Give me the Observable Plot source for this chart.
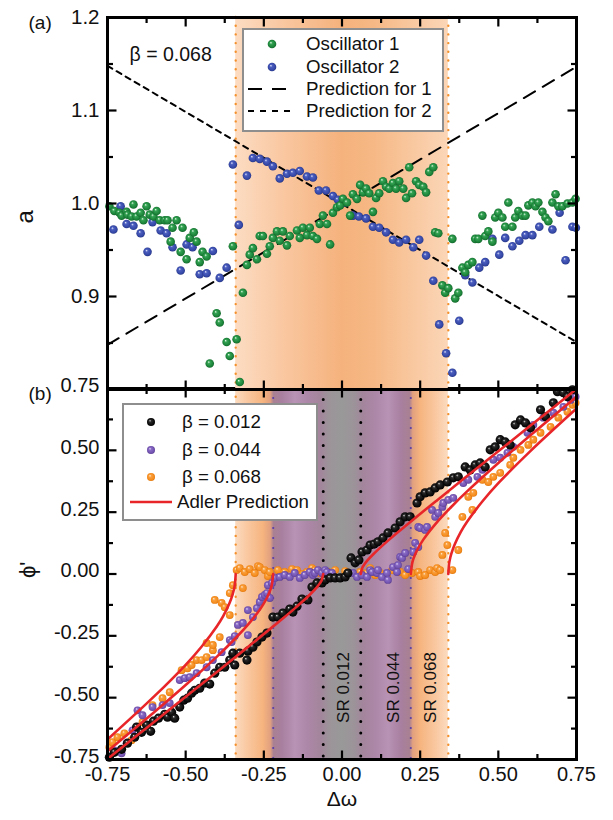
<!DOCTYPE html>
<html><head><meta charset="utf-8">
<script src="https://cdn.jsdelivr.net/npm/d3@7"></script>
<script src="https://cdn.jsdelivr.net/npm/@observablehq/plot@0.6"></script>
<style>
html,body{margin:0;padding:0;background:#fff;}
#wrap{position:relative;width:613px;height:820px;overflow:hidden;font-family:"Liberation Sans",Arial,Helvetica,sans-serif;color:#111;}
#wrap > svg{position:absolute;left:0;}
.lg{position:absolute;background:#fff;border:2px solid #8e8e8e;box-sizing:border-box;}
.lg .txt{position:absolute;white-space:nowrap;line-height:22px;height:22px;font-size:18.7px;color:#111;}
.lg svg.mk{position:absolute;left:0;overflow:visible;}
</style></head>
<body>
<svg width="0" height="0" style="position:absolute" aria-hidden="true"><defs>
<linearGradient id="bandTop" x1="0" x2="1" y1="0" y2="0">
<stop offset="0" stop-color="#fcdcc2"/><stop offset="0.25" stop-color="#f9c59d"/><stop offset="0.5" stop-color="#f5b27d"/><stop offset="0.65" stop-color="#f6b885"/><stop offset="1" stop-color="#fbd6b7"/>
</linearGradient>
<linearGradient id="bandBot" x1="0" x2="1" y1="0" y2="0">
<stop offset="0" stop-color="#fcdbbf"/><stop offset="0.06" stop-color="#f9c79f"/><stop offset="0.13" stop-color="#f6b47f"/><stop offset="0.165" stop-color="#e2a07f"/><stop offset="0.18" stop-color="#a98192"/><stop offset="0.22" stop-color="#a87f9f"/><stop offset="0.28" stop-color="#b893b5"/><stop offset="0.34" stop-color="#ad87a8"/><stop offset="0.40" stop-color="#a3859c"/><stop offset="0.44" stop-color="#9c9399"/><stop offset="0.5" stop-color="#999999"/><stop offset="0.56" stop-color="#9c9399"/><stop offset="0.60" stop-color="#a3859c"/><stop offset="0.66" stop-color="#ad87a8"/><stop offset="0.72" stop-color="#b893b5"/><stop offset="0.78" stop-color="#a87f9f"/><stop offset="0.82" stop-color="#a98192"/><stop offset="0.835" stop-color="#e2a07f"/><stop offset="0.87" stop-color="#f6b47f"/><stop offset="0.94" stop-color="#f9c79f"/><stop offset="1" stop-color="#fcdbbf"/>
</linearGradient>
<radialGradient id="sGreen" cx="0.5" cy="0.5" r="0.55" fx="0.36" fy="0.32"><stop offset="0" stop-color="#e3f7e6"/><stop offset="0.28" stop-color="#34a353"/><stop offset="0.75" stop-color="#1b8239"/><stop offset="1" stop-color="#0f5e25"/></radialGradient>
<radialGradient id="sBlue" cx="0.5" cy="0.5" r="0.55" fx="0.36" fy="0.32"><stop offset="0" stop-color="#e6eafc"/><stop offset="0.28" stop-color="#4c5fc0"/><stop offset="0.75" stop-color="#3447a6"/><stop offset="1" stop-color="#22307a"/></radialGradient>
<radialGradient id="sBlack" cx="0.5" cy="0.5" r="0.55" fx="0.36" fy="0.32"><stop offset="0" stop-color="#e0e0e0"/><stop offset="0.25" stop-color="#2a2a2a"/><stop offset="0.75" stop-color="#0a0a0a"/><stop offset="1" stop-color="#000"/></radialGradient>
<radialGradient id="sPurple" cx="0.5" cy="0.5" r="0.55" fx="0.36" fy="0.32"><stop offset="0" stop-color="#ece4fa"/><stop offset="0.28" stop-color="#8a6cc6"/><stop offset="0.75" stop-color="#7252b0"/><stop offset="1" stop-color="#553a8c"/></radialGradient>
<radialGradient id="sOrange" cx="0.5" cy="0.5" r="0.55" fx="0.36" fy="0.32"><stop offset="0" stop-color="#fff0dc"/><stop offset="0.28" stop-color="#f9a040"/><stop offset="0.75" stop-color="#f58c1c"/><stop offset="1" stop-color="#d9700a"/></radialGradient>
</defs></svg>
<div id="wrap"></div>
<script>
// ---------------- data ----------------
const xMajorTicks = [-0.75, -0.5, -0.25, 0, 0.25, 0.5, 0.75];
const xMinorTicks = [-0.625, -0.375, -0.125, 0.125, 0.375, 0.625];
const xTickLabels = [-0.75, -0.5, -0.25, 0, 0.25, 0.5, 0.75];
const aMajorTicks = [0.8, 0.9, 1.0, 1.1, 1.2];
const aMinorTicks = [0.85, 0.95, 1.05, 1.15];
const aTickLabels = [0.9, 1.0, 1.1, 1.2];
const phiMajorTicks = [-0.75, -0.5, -0.25, 0, 0.25, 0.5, 0.75];
const phiMinorTicks = [-0.625, -0.375, -0.125, 0.125, 0.375, 0.625];
const phiTickLabels = [-0.75, -0.5, -0.25, 0, 0.25, 0.5, 0.75];

const betas = ["0.012", "0.044", "0.068"];
const srLow = [-0.06, -0.22, -0.34];
const srHigh = [0.06, 0.22, 0.34];

// panel (a): amplitude a vs detuning
const predX = [-0.75, 0.75];
const pred1A = [0.848, 1.147];
const pred2A = [1.148, 0.851];

const osc1X = [-0.744,-0.728,-0.712,-0.705,-0.689,-0.686,-0.673,-0.667,-0.657,-0.644,-0.635,-0.625,-0.615,-0.603,-0.593,-0.583,-0.567,-0.558,-0.548,-0.542,-0.529,-0.516,-0.510,-0.497,-0.487,-0.474,-0.465,-0.455,-0.446,-0.433,-0.423,-0.401,-0.391,-0.369,-0.359,-0.349,-0.337,-0.327,-0.317,-0.304,-0.295,-0.285,-0.272,-0.263,-0.253,-0.240,-0.231,-0.221,-0.208,-0.199,-0.189,-0.176,-0.167,-0.144,-0.135,-0.125,-0.112,-0.103,-0.093,-0.080,-0.071,-0.061,-0.048,-0.038,-0.029,-0.016,-0.006,0.003,0.016,0.026,0.035,0.048,0.058,0.067,0.077,0.087,0.099,0.109,0.119,0.131,0.141,0.151,0.163,0.173,0.183,0.196,0.205,0.215,0.224,0.237,0.247,0.260,0.269,0.279,0.292,0.298,0.308,0.321,0.330,0.340,0.353,0.362,0.372,0.385,0.394,0.404,0.417,0.426,0.436,0.449,0.458,0.468,0.481,0.490,0.500,0.513,0.522,0.532,0.545,0.554,0.564,0.577,0.587,0.596,0.609,0.619,0.628,0.641,0.651,0.660,0.673,0.683,0.692,0.705,0.721,0.737,0.747];
const osc1A = [0.997,0.992,0.990,0.987,0.991,0.988,0.986,0.999,0.986,0.990,0.982,0.997,0.988,0.986,0.992,0.982,0.982,0.982,0.959,0.974,0.982,0.948,0.974,0.940,0.963,0.969,0.959,0.937,0.948,0.943,0.828,0.882,0.872,0.851,0.836,0.954,0.854,0.808,0.904,0.934,0.945,0.952,0.940,0.965,0.965,0.946,0.954,0.963,0.970,0.960,0.970,0.955,0.965,0.971,0.963,0.974,0.966,0.974,0.965,0.962,0.978,0.987,0.978,0.956,0.990,0.996,0.998,1.005,1.001,0.987,1.010,1.005,1.020,1.012,1.016,1.011,0.991,1.006,1.011,1.024,1.018,1.016,1.022,1.016,1.024,1.016,1.006,1.039,1.011,1.024,1.020,1.018,1.012,1.034,1.039,0.969,0.968,0.912,0.904,0.909,0.962,0.898,0.904,0.931,0.926,0.934,0.937,0.962,0.962,0.987,0.965,0.970,0.959,0.985,0.990,0.985,0.975,1.001,0.975,0.985,0.992,0.987,0.987,0.998,1.001,0.997,1.001,0.991,0.985,0.981,1.001,1.010,0.997,0.997,1.000,1.001,1.005];

const osc2X = [-0.731,-0.708,-0.689,-0.667,-0.644,-0.622,-0.606,-0.580,-0.561,-0.542,-0.516,-0.497,-0.478,-0.455,-0.433,-0.413,-0.391,-0.369,-0.349,-0.330,-0.304,-0.285,-0.263,-0.240,-0.221,-0.199,-0.176,-0.157,-0.135,-0.112,-0.093,-0.074,-0.051,-0.029,-0.013,0.010,0.035,0.054,0.077,0.099,0.119,0.141,0.163,0.183,0.205,0.228,0.247,0.269,0.292,0.311,0.333,0.353,0.375,0.394,0.417,0.439,0.458,0.481,0.503,0.522,0.545,0.567,0.587,0.609,0.631,0.673,0.696,0.715,0.737,0.748];
const osc2A = [0.972,0.997,0.978,0.976,0.968,0.948,0.980,0.971,0.968,0.953,0.928,0.956,0.953,0.924,0.925,0.949,0.920,0.931,1.042,0.977,1.030,1.049,1.048,1.045,1.040,1.027,1.032,1.033,1.035,1.029,1.028,1.014,1.014,1.008,1.004,1.001,0.987,0.986,0.984,0.975,0.974,0.969,0.961,0.958,0.961,0.953,0.961,0.944,0.917,0.870,0.839,0.818,0.874,0.923,0.915,0.931,0.937,0.962,0.945,0.963,0.954,0.960,0.966,0.966,0.975,0.972,0.990,0.939,0.975,0.974];

// panel (b): phi' vs detuning
const b012X = [-0.744,-0.728,-0.705,-0.686,-0.663,-0.657,-0.641,-0.625,-0.612,-0.603,-0.587,-0.567,-0.558,-0.545,-0.535,-0.519,-0.506,-0.494,-0.481,-0.471,-0.455,-0.439,-0.423,-0.407,-0.391,-0.375,-0.359,-0.349,-0.343,-0.327,-0.304,-0.301,-0.285,-0.272,-0.256,-0.240,-0.221,-0.205,-0.189,-0.167,-0.157,-0.144,-0.128,-0.109,-0.096,-0.080,-0.064,-0.054,-0.038,-0.022,-0.006,0.010,0.019,0.029,0.042,0.054,0.064,0.080,0.090,0.103,0.115,0.131,0.147,0.170,0.186,0.202,0.218,0.240,0.250,0.266,0.282,0.298,0.314,0.337,0.356,0.372,0.394,0.410,0.426,0.442,0.458,0.474,0.490,0.506,0.522,0.538,0.554,0.571,0.587,0.603,0.635,0.651,0.676,0.689,0.708,0.721,0.737];
const b012Phi = [-0.741,-0.721,-0.709,-0.684,-0.660,-0.619,-0.640,-0.611,-0.636,-0.595,-0.583,-0.567,-0.579,-0.559,-0.583,-0.538,-0.510,-0.502,-0.482,-0.470,-0.462,-0.441,-0.445,-0.401,-0.377,-0.377,-0.348,-0.320,-0.368,-0.320,-0.348,-0.312,-0.296,-0.275,-0.255,-0.239,-0.174,-0.174,-0.158,-0.142,-0.154,-0.130,-0.101,-0.105,-0.053,-0.036,-0.036,-0.024,-0.016,-0.016,-0.016,-0.012,0.004,0.065,0.045,0.057,0.089,0.097,0.117,0.121,0.130,0.146,0.166,0.186,0.211,0.231,0.231,0.287,0.312,0.328,0.332,0.348,0.360,0.372,0.389,0.393,0.433,0.421,0.441,0.449,0.433,0.502,0.514,0.543,0.534,0.522,0.603,0.623,0.611,0.591,0.664,0.636,0.692,0.737,0.733,0.717,0.745];

const b044X = [-0.728,-0.705,-0.689,-0.670,-0.654,-0.638,-0.606,-0.574,-0.551,-0.519,-0.503,-0.487,-0.465,-0.433,-0.413,-0.385,-0.359,-0.353,-0.343,-0.333,-0.317,-0.301,-0.301,-0.285,-0.272,-0.263,-0.256,-0.247,-0.240,-0.237,-0.231,-0.224,-0.215,-0.199,-0.183,-0.167,-0.151,-0.135,-0.119,-0.103,-0.093,-0.087,-0.077,-0.064,-0.054,-0.048,-0.032,0.035,0.048,0.064,0.080,0.090,0.096,0.112,0.115,0.128,0.144,0.147,0.163,0.176,0.179,0.186,0.192,0.202,0.212,0.228,0.234,0.244,0.244,0.250,0.266,0.272,0.288,0.298,0.308,0.321,0.324,0.340,0.356,0.388,0.404,0.433,0.449,0.484,0.506,0.529,0.548,0.593,0.612,0.644,0.676,0.708,0.731,0.747];
const b044Phi = [-0.713,-0.725,-0.684,-0.632,-0.551,-0.571,-0.538,-0.530,-0.522,-0.429,-0.421,-0.417,-0.401,-0.377,-0.348,-0.316,-0.267,-0.275,-0.251,-0.206,-0.198,-0.247,-0.146,-0.174,-0.138,-0.113,-0.093,-0.085,-0.077,-0.045,-0.097,-0.036,-0.016,-0.012,-0.004,-0.012,0.004,-0.016,-0.004,0.008,-0.004,0.004,0.016,0.004,0.016,0.008,0.004,0.004,-0.012,-0.004,-0.012,0.016,0.008,0.004,0.016,-0.012,0.004,-0.024,0.028,0.008,0.036,0.069,0.065,0.085,0.020,0.089,0.126,0.109,0.190,0.186,0.178,0.190,0.259,0.231,0.247,0.271,0.287,0.300,0.308,0.368,0.381,0.393,0.421,0.462,0.470,0.490,0.514,0.571,0.603,0.632,0.652,0.676,0.704,0.717];

const b068X = [-0.744,-0.734,-0.718,-0.696,-0.673,-0.638,-0.606,-0.574,-0.551,-0.513,-0.494,-0.481,-0.465,-0.449,-0.433,-0.433,-0.413,-0.413,-0.407,-0.391,-0.385,-0.375,-0.359,-0.359,-0.349,-0.337,-0.327,-0.317,-0.311,-0.295,-0.279,-0.269,-0.263,-0.247,-0.237,-0.231,-0.205,-0.183,-0.160,-0.144,-0.125,-0.112,-0.096,-0.087,-0.071,-0.045,-0.022,0.010,0.058,0.080,0.090,0.106,0.122,0.144,0.160,0.186,0.202,0.224,0.244,0.250,0.266,0.282,0.298,0.304,0.314,0.321,0.330,0.337,0.353,0.372,0.385,0.404,0.417,0.420,0.449,0.468,0.484,0.506,0.538,0.548,0.571,0.596,0.612,0.635,0.667,0.692,0.721,0.737,0.747];
const b068Phi = [-0.700,-0.680,-0.660,-0.644,-0.672,-0.599,-0.530,-0.502,-0.478,-0.389,-0.381,-0.368,-0.348,-0.348,-0.336,-0.279,-0.308,-0.287,-0.105,-0.255,-0.117,-0.134,-0.166,-0.077,-0.045,0.016,0.024,-0.057,0.008,0.020,0.004,0.032,0.028,0.016,-0.008,0.008,0.016,0.008,0.020,0.016,0.000,0.008,0.024,0.016,0.004,0.008,0.016,0.012,0.008,0.004,0.024,-0.004,0.004,-0.012,0.016,0.008,-0.004,0.004,0.008,-0.008,-0.004,0.016,0.008,0.024,0.016,0.077,0.166,0.117,0.016,0.097,0.231,0.312,0.259,0.328,0.381,0.372,0.393,0.409,0.441,0.470,0.502,0.522,0.543,0.571,0.595,0.632,0.656,0.684,0.692];

// Adler prediction branches
const adler012LX = [-0.75,-0.6,-0.5,-0.4,-0.3,-0.2,-0.15,-0.1,-0.08,-0.07,-0.065,-0.06];
const adler012LY = [-0.748,-0.597,-0.496,-0.396,-0.294,-0.191,-0.138,-0.080,-0.053,-0.036,-0.025,0];
const adler012RX = [0.06,0.065,0.07,0.08,0.1,0.15,0.2,0.3,0.4,0.5,0.6,0.75];
const adler012RY = [0,0.025,0.036,0.053,0.080,0.138,0.191,0.294,0.396,0.496,0.597,0.748];
const adler044LX = [-0.75,-0.6,-0.5,-0.4,-0.35,-0.3,-0.26,-0.24,-0.23,-0.225,-0.22];
const adler044LY = [-0.717,-0.558,-0.449,-0.334,-0.272,-0.204,-0.139,-0.096,-0.067,-0.047,0];
const adler044RX = [0.22,0.225,0.23,0.24,0.26,0.3,0.35,0.4,0.5,0.6,0.75];
const adler044RY = [0,0.047,0.067,0.096,0.139,0.204,0.272,0.334,0.449,0.558,0.717];
const adler068LX = [-0.75,-0.6,-0.5,-0.45,-0.4,-0.38,-0.36,-0.35,-0.345,-0.3425,-0.34];
const adler068LY = [-0.669,-0.494,-0.367,-0.295,-0.211,-0.170,-0.118,-0.083,-0.059,-0.041,0];
const adler068RX = [0.34,0.3425,0.345,0.35,0.36,0.38,0.4,0.45,0.5,0.6,0.75];
const adler068RY = [0,0.041,0.059,0.083,0.118,0.170,0.211,0.295,0.367,0.494,0.669];

// ---------------- helpers ----------------
const fontFamily = '"Liberation Sans", Arial, Helvetica, sans-serif';
const pts = (xs, ys) => xs.map((x, i) => ({x, y: ys[i]}));
const tickSym = (dx, dy) => ({draw(ctx) { ctx.moveTo(0, 0); ctx.lineTo(dx, dy); }});
const MAJ = 9, MIN = 5.5;
const tickStyle = {stroke: "#000", strokeWidth: 2.2, fill: "none", r: 5};
function frameTicks({xMaj, xMin, yMaj, yMin, top, bottom}) {
  const m = [];
  const add = (data, anchor, dx, dy, ch) =>
    m.push(Plot.dot(data, {[ch]: d => d, frameAnchor: anchor, symbol: tickSym(dx, dy), ...tickStyle}));
  add(yMaj, "left", MAJ, 0, "y"); add(yMin, "left", MIN, 0, "y");
  add(yMaj, "right", -MAJ, 0, "y"); add(yMin, "right", -MIN, 0, "y");
  if (top) { add(xMaj, "top", 0, MAJ, "x"); add(xMin, "top", 0, MIN, "x"); }
  if (bottom) { add(xMaj, "bottom", 0, -MAJ, "x"); add(xMin, "bottom", 0, -MIN, "x"); }
  return m;
}
const fmt2 = v => (v < 0 ? "-" : "") + Math.abs(v).toFixed(2);
const dotted = (color, w, gap) => ({stroke: color, strokeWidth: w, strokeDasharray: `0,${gap}`, strokeLinecap: "round"});

// ---------------- panel (a) ----------------
const topPlot = Plot.plot({
  width: 613, height: 392,
  marginTop: 17, marginBottom: 3, marginLeft: 107, marginRight: 37,
  x: {domain: [-0.75, 0.75], axis: null},
  y: {domain: [0.8, 1.2], axis: null},
  style: {fontFamily, background: "transparent", overflow: "visible", color: "#111"},
  marks: [
    Plot.rect([0], {x1: () => srLow[2], x2: () => srHigh[2], fill: "url(#bandTop)"}),
    Plot.ruleX([srLow[2], srHigh[2]], dotted("#f4912c", 2.4, 8.7)),
    Plot.line(pts(predX, pred1A), {x: "x", y: "y", stroke: "#000", strokeWidth: 2, strokeDasharray: "13,9"}),
    Plot.line(pts(predX, pred2A), {x: "x", y: "y", stroke: "#000", strokeWidth: 2, strokeDasharray: "5.5,5"}),
    Plot.dot(pts(osc2X, osc2A), {x: "x", y: "y", r: 4.3, fill: "url(#sBlue)"}),
    Plot.dot(pts(osc1X, osc1A), {x: "x", y: "y", r: 4.3, fill: "url(#sGreen)"}),
    ...frameTicks({xMaj: xMajorTicks, xMin: xMinorTicks, yMaj: aMajorTicks, yMin: aMinorTicks, top: true, bottom: true}),
    Plot.text(aTickLabels, {y: d => d, text: d => d.toFixed(1), frameAnchor: "left", dx: -8, textAnchor: "end", fontSize: 20.5, fill: "#111"}),
    Plot.text([`β = ${betas[2]}`], {text: d => d, frameAnchor: "top-left", dx: 22, dy: 30, textAnchor: "start", fontSize: 19.5, fill: "#111"}),
    Plot.text(["(a)"], {text: d => d, frameAnchor: "top-left", dx: -79, dy: -2, fontSize: 19, fill: "#111"}),
    Plot.text(["a"], {text: d => d, frameAnchor: "left", dx: -82, dy: 20, rotate: -90, fontSize: 24, fill: "#111"}),
    Plot.frame({stroke: "#000", strokeWidth: 3})
  ]
});

// ---------------- panel (b) ----------------
const adlerStyle = {x: "x", y: "y", stroke: "#e8262a", strokeWidth: 2.6, curve: "catmull-rom"};
const botPlot = Plot.plot({
  width: 613, height: 450,
  marginTop: 18, marginBottom: 61, marginLeft: 107, marginRight: 37,
  x: {domain: [-0.75, 0.75], axis: null},
  y: {domain: [-0.75, 0.75], axis: null},
  style: {fontFamily, background: "transparent", overflow: "visible", color: "#111"},
  marks: [
    Plot.rect([0], {x1: () => srLow[2], x2: () => srHigh[2], fill: "url(#bandBot)"}),
    Plot.ruleX([srLow[2], srHigh[2]], dotted("#f4912c", 2.4, 8.7)),
    Plot.ruleX([srLow[1], srHigh[1]], dotted("#5a3ea8", 2.2, 10)),
    Plot.ruleX([srLow[0], srHigh[0]], dotted("#000", 3, 11.5)),
    Plot.dot(pts(b068X, b068Phi), {x: "x", y: "y", r: 3.9, fill: "url(#sOrange)"}),
    Plot.dot(pts(b044X, b044Phi), {x: "x", y: "y", r: 3.9, fill: "url(#sPurple)"}),
    Plot.dot(pts(b012X, b012Phi), {x: "x", y: "y", r: 4.6, fill: "url(#sBlack)"}),
    Plot.line(pts(adler068LX, adler068LY), adlerStyle),
    Plot.line(pts(adler068RX, adler068RY), adlerStyle),
    Plot.line(pts(adler044LX, adler044LY), adlerStyle),
    Plot.line(pts(adler044RX, adler044RY), adlerStyle),
    Plot.line(pts(adler012LX, adler012LY), adlerStyle),
    Plot.line(pts(adler012RX, adler012RY), adlerStyle),
    Plot.text(srHigh.map((s, i) => ({s, t: `SR ${betas[i]}`})), {x: "s", text: "t", frameAnchor: "bottom", dx: -12, dy: -72, rotate: -90, fontSize: 17, fill: "#111"}),
    ...frameTicks({xMaj: xMajorTicks, xMin: xMinorTicks, yMaj: phiMajorTicks, yMin: phiMinorTicks, top: true, bottom: true}),
    Plot.text(phiTickLabels, {y: d => d, text: fmt2, frameAnchor: "left", dx: -8, dy: -3, textAnchor: "end", fontSize: 20, fill: "#111"}),
    Plot.text(xTickLabels, {x: d => d, text: fmt2, frameAnchor: "bottom", dy: 21, fontSize: 20, fill: "#111"}),
    Plot.text(["(b)"], {text: d => d, frameAnchor: "top-left", dx: -79, dy: -2, fontSize: 19, fill: "#111"}),
    Plot.text(["ϕ'"], {text: d => d, frameAnchor: "left", dx: -80, dy: 4, rotate: -90, fontSize: 22, fill: "#111"}),
    Plot.text(["Δω"], {text: d => d, frameAnchor: "bottom", dy: 46, fontSize: 21, fill: "#111"}),
    Plot.frame({stroke: "#000", strokeWidth: 3})
  ]
});

const wrap = document.getElementById("wrap");
topPlot.style.top = "0px";
botPlot.style.top = "370px";
wrap.appendChild(botPlot);
wrap.appendChild(topPlot);

// ---------------- legends ----------------
function legend(box, rows) {
  const div = document.createElement("div");
  div.className = "lg";
  Object.assign(div.style, {left: box.left + "px", top: box.top + "px", width: box.w + "px", height: box.h + "px"});
  for (const r of rows) {
    const svgNS = "http://www.w3.org/2000/svg";
    const mk = document.createElementNS(svgNS, "svg");
    mk.setAttribute("class", "mk");
    mk.setAttribute("width", "70"); mk.setAttribute("height", "20");
    mk.style.top = (r.cy - 10) + "px";
    if (r.dot) {
      mk.innerHTML = `<circle cx="${r.mx}" cy="10" r="${r.r}" fill="${r.dot}"/>`;
    } else {
      mk.innerHTML = `<line x1="${r.x1}" x2="${r.x2}" y1="10" y2="10" stroke="${r.stroke}" stroke-width="${r.sw}" ${r.dash ? `stroke-dasharray="${r.dash}"` : ""}/>`;
    }
    div.appendChild(mk);
    const t = document.createElement("div");
    t.className = "txt";
    t.textContent = r.label;
    t.style.left = r.tx + "px";
    t.style.top = (r.cy - 11) + "px";
    div.appendChild(t);
  }
  wrap.appendChild(div);
}
legend({left: 242, top: 28, w: 202, h: 104}, [
  {label: "Oscillator 1", dot: "url(#sGreen)", mx: 28, r: 4.3, cy: 14, tx: 62},
  {label: "Oscillator 2", dot: "url(#sBlue)", mx: 28, r: 4.3, cy: 37, tx: 62},
  {label: "Prediction for 1", x1: 4, x2: 46, stroke: "#000", sw: 2, dash: "14,10", cy: 59, tx: 62},
  {label: "Prediction for 2", x1: 4, x2: 46, stroke: "#000", sw: 2, dash: "6,6", cy: 81, tx: 62}
]);
legend({left: 122, top: 403, w: 196, h: 118}, [
  {label: `β = ${betas[0]}`, dot: "url(#sBlack)", mx: 27, r: 4, cy: 17, tx: 58},
  {label: `β = ${betas[1]}`, dot: "url(#sPurple)", mx: 27, r: 4, cy: 45, tx: 58},
  {label: `β = ${betas[2]}`, dot: "url(#sOrange)", mx: 27, r: 4, cy: 72, tx: 58},
  {label: "Adler Prediction", x1: 6, x2: 48, stroke: "#e8262a", sw: 2.6, cy: 97, tx: 53}
]);
</script>
</body></html>
